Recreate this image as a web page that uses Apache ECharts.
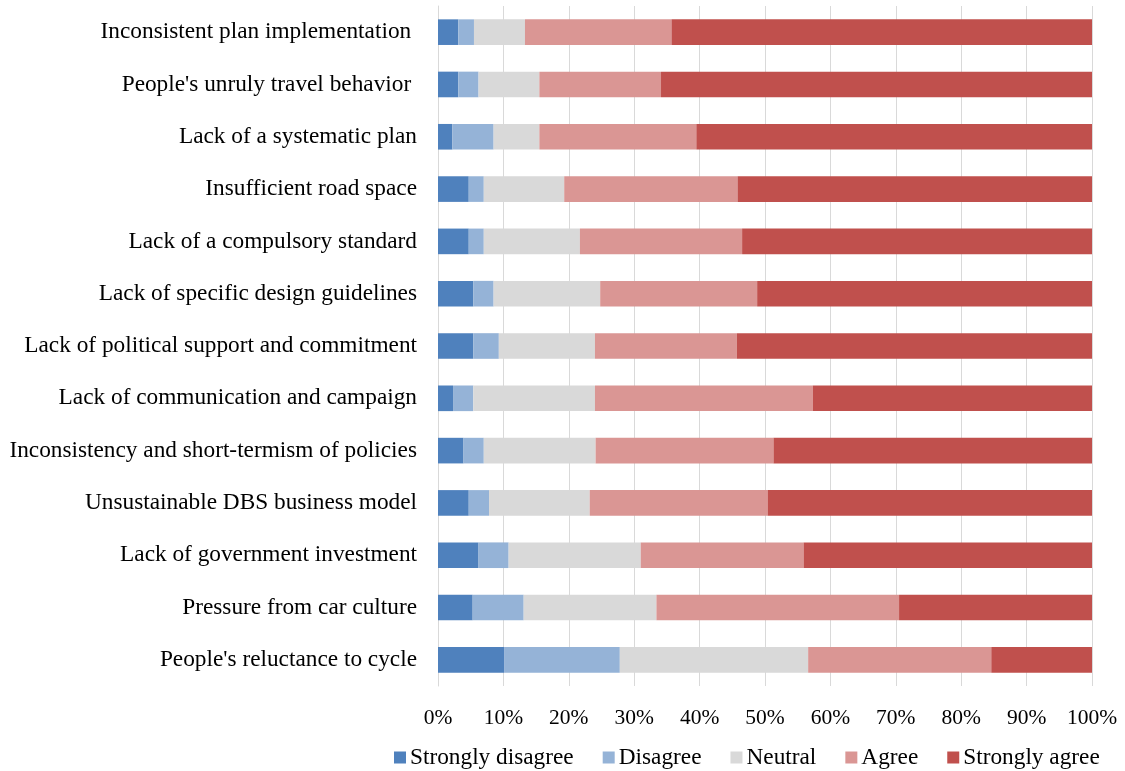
<!DOCTYPE html>
<html>
<head>
<meta charset="utf-8">
<script src="https://cdn.jsdelivr.net/npm/echarts@6/dist/echarts.min.js"></script>
<style>
html,body{margin:0;padding:0;background:#fff;}
#chart{width:1125px;height:771px;}
</style>
</head>
<body>
<div id="chart"></div>
<script>
const categories = [
  "Inconsistent plan implementation ",
  "People's unruly travel behavior ",
  "Lack of a systematic plan",
  "Insufficient road space",
  "Lack of a compulsory standard",
  "Lack of specific design guidelines",
  "Lack of political support and commitment",
  "Lack of communication and campaign",
  "Inconsistency and short-termism of policies",
  "Unsustainable DBS business model",
  "Lack of government investment",
  "Pressure from car culture",
  "People's reluctance to cycle"
];
const seriesNames = ["Strongly disagree", "Disagree", "Neutral", "Agree", "Strongly agree"];
const stronglyDisagree = [3.1, 3.1, 2.2, 4.7, 4.7, 5.4, 5.4, 2.3, 3.9, 4.7, 6.2, 5.3, 10.1];
const disagree         = [2.4, 3.1, 6.3, 2.3, 2.3, 3.1, 3.9, 3.1, 3.1, 3.1, 4.6, 7.8, 17.7];
const neutral          = [7.8, 9.3, 7.0, 12.3, 14.7, 16.3, 14.7, 18.6, 17.1, 15.4, 20.2, 20.3, 28.8];
const agree            = [22.4, 18.6, 24.0, 26.5, 24.8, 24.0, 21.7, 33.3, 27.2, 27.2, 24.9, 37.1, 28.0];
const stronglyAgree    = [64.3, 65.9, 60.5, 54.2, 53.5, 51.2, 54.3, 42.7, 48.7, 49.6, 44.1, 29.5, 15.4];
const xTicks = [0, 10, 20, 30, 40, 50, 60, 70, 80, 90, 100];

const colors = ["#4f81bd", "#95b3d7", "#d9d9d9", "#da9694", "#c0504d"];
const values = [stronglyDisagree, disagree, neutral, agree, stronglyAgree];
const font = "'Liberation Serif', 'Times New Roman', serif";

const chart = echarts.init(document.getElementById('chart'), null, {renderer: 'canvas'});
chart.setOption({
  animation: false,
  backgroundColor: '#ffffff',
  textStyle: {fontFamily: font, color: '#000'},
  grid: {left: 438, right: 33, top: 6, bottom: 85, containLabel: false},
  xAxis: {
    type: 'value', min: 0, max: 100, interval: 10,
    axisLine: {show: false}, axisTick: {show: false},
    splitLine: {show: true, lineStyle: {color: '#d9d9d9', width: 1}},
    axisLabel: {formatter: v => xTicks.includes(v) ? v + '%' : '', fontFamily: font, fontSize: 21.5, color: '#000', margin: 21}
  },
  yAxis: {
    type: 'category', data: categories, inverse: true,
    axisLine: {show: true, lineStyle: {color: '#d9d9d9'}}, axisTick: {show: false},
    axisLabel: {fontFamily: font, fontSize: 23.3, color: '#000', margin: 21}
  },
  legend: {
    bottom: 2, left: 394, padding: 0,
    itemWidth: 12, itemHeight: 12, itemGap: 29, icon: 'rect',
    textStyle: {fontFamily: font, fontSize: 23.3, color: '#000', padding: [0, 0, 0, -1]},
    data: seriesNames
  },
  series: seriesNames.map((name, i) => ({
    name: name, type: 'bar', stack: 'total',
    barCategoryGap: '51%',
    itemStyle: {color: colors[i]},
    data: values[i]
  }))
});
</script>
</body>
</html>
